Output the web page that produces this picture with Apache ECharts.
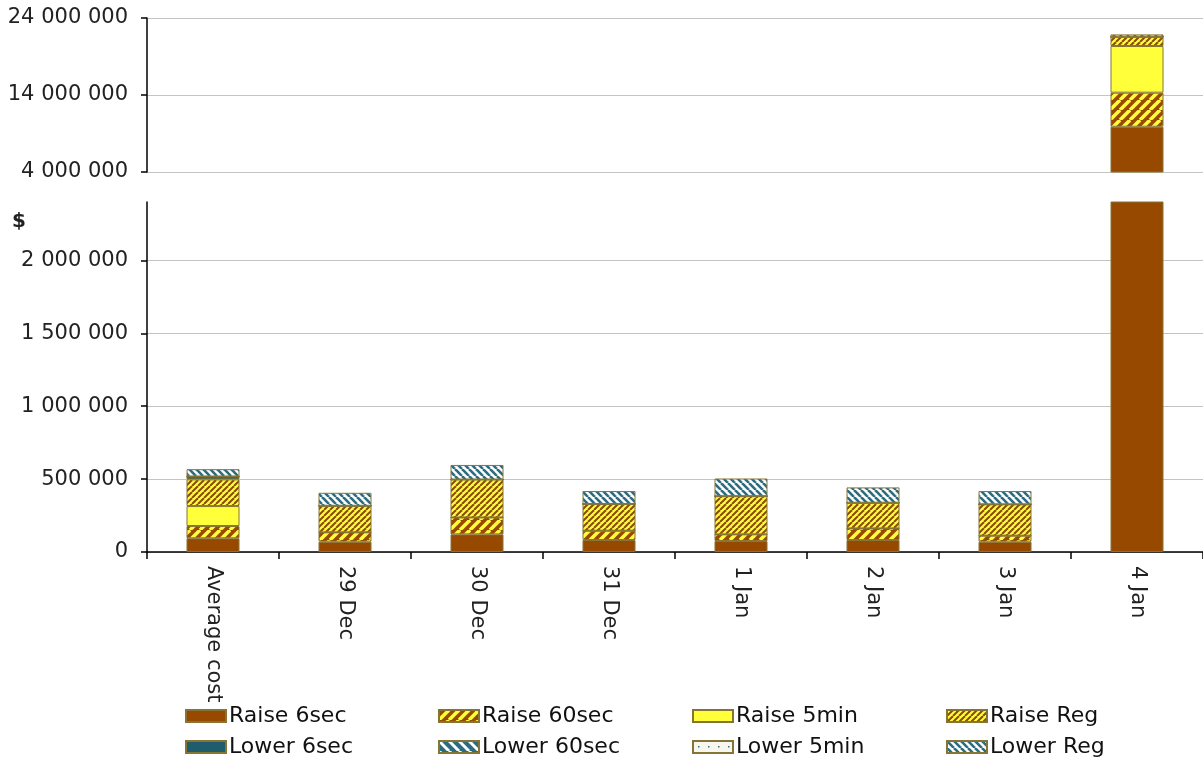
<!DOCTYPE html>
<html>
<head>
<meta charset="utf-8">
<script src="https://cdn.jsdelivr.net/npm/echarts@6/dist/echarts.min.js"></script>
<style>
html,body{margin:0;padding:0;background:#fff;}
#chart{width:1203px;height:769px;}
</style>
</head>
<body>
<div id="chart"></div>
<script>
// ---- data ----
const categories = ['Average cost', '29 Dec', '30 Dec', '31 Dec', '1 Jan', '2 Jan', '3 Jan', '4 Jan'];
const raise6sec  = [94000, 71000, 121000, 82000, 75000, 82000, 71000, 9880000];
const raise60sec = [84000, 64000, 116000, 64000, 46000, 80000, 41000, 4420000];
const raise5min  = [137000, 0, 0, 0, 0, 0, 0, 6060000];
const raiseReg   = [183000, 182000, 260000, 183000, 262000, 176000, 215000, 1210000];
const lower6sec  = [20000, 0, 0, 0, 0, 0, 0, 0];
const lower60sec = [0, 0, 0, 0, 0, 0, 0, 0];
const lower5min  = [0, 0, 0, 0, 0, 0, 0, 0];
const lowerReg   = [50000, 89000, 100000, 89000, 121000, 105000, 91000, 300000];
const topTicks = [4000000, 14000000, 24000000];
const bottomTicks = [0, 500000, 1000000, 1500000, 2000000];

// ---- patterns ----
function stripes(bg, fg, p, lw, dir) {
  const c = document.createElement('canvas');
  c.width = p; c.height = p;
  const g = c.getContext('2d');
  g.fillStyle = bg; g.fillRect(0, 0, p, p);
  g.strokeStyle = fg; g.lineWidth = lw;
  for (let k = -1; k <= 1; k++) {
    g.beginPath();
    if (dir === '/') { g.moveTo(k * p, p); g.lineTo(k * p + p, 0); }
    else { g.moveTo(k * p, 0); g.lineTo(k * p + p, p); }
    g.stroke();
  }
  return { image: c, repeat: 'repeat' };
}
function dots(bg, fg, p) {
  const c = document.createElement('canvas');
  c.width = p; c.height = p;
  const g = c.getContext('2d');
  g.fillStyle = bg; g.fillRect(0, 0, p, p);
  g.fillStyle = fg; g.fillRect(Math.floor(p / 2), Math.floor(p / 2), 1.5, 1.5);
  return { image: c, repeat: 'repeat' };
}
const BROWN = '#984900', YELLOW = '#FFFF3A', TEAL = '#2C6C80', DTEAL = '#1F5C6C';
const BORDER = '#857434';

const seriesDefs = [
  { name: 'Raise 6sec',  data: raise6sec,  color: BROWN },
  { name: 'Raise 60sec', data: raise60sec, color: stripes(BROWN, YELLOW, 10, 3.5, '/') },
  { name: 'Raise 5min',  data: raise5min,  color: YELLOW },
  { name: 'Raise Reg',   data: raiseReg,   color: stripes(YELLOW, '#8a4a08', 6, 2, '/') },
  { name: 'Lower 6sec',  data: lower6sec,  color: DTEAL },
  { name: 'Lower 60sec', data: lower60sec, color: stripes(TEAL, '#ffffff', 10, 3, '\\') },
  { name: 'Lower 5min',  data: lower5min,  color: dots('#f7f7f0', '#2C6C80', 10) },
  { name: 'Lower Reg',   data: lowerReg,   color: stripes('#ffffff', TEAL, 7, 2.6, '\\') }
];

const FONT = '"DejaVu Sans", sans-serif';
const series = [];
seriesDefs.forEach(s => {
  [0, 1].forEach(idx => {
    series.push({
      name: s.name,
      type: 'bar',
      stack: idx === 0 ? 'bottom' : 'top',
      xAxisIndex: idx,
      yAxisIndex: idx,
      data: s.data,
      barWidth: 53,
      clip: true,
      itemStyle: { color: s.color, borderColor: BORDER, borderWidth: 1 },
      emphasis: { disabled: true },
      animation: false
    });
  });
});

// legend layout: 2 rows x 4 columns
const legendCols = [185, 438, 692, 946];
const legendRows = [705, 736];
const legends = seriesDefs.map((s, i) => ({
  data: [s.name],
  left: legendCols[i % 4],
  top: legendRows[Math.floor(i / 4)],
  padding: 0,
  itemWidth: 40,
  itemHeight: 12,
  itemGap: 4,
  icon: 'rect',
  textStyle: { fontFamily: FONT, fontSize: 22, color: '#111', padding: [0, 0, 0, -2] },
  selectedMode: false
}));

const fmt = v => v.toLocaleString('en-US').replace(/,/g, ' ');

const chart = echarts.init(document.getElementById('chart'), null, { renderer: 'canvas' });
chart.setOption({
  backgroundColor: '#ffffff',
  animation: false,
  grid: [
    { left: 147, right: 0, top: 202, height: 350 },
    { left: 147, right: 0, top: 18, height: 154 }
  ],
  xAxis: [
    {
      type: 'category', gridIndex: 0, data: categories,
      axisLine: { lineStyle: { color: '#000', width: 1.5 } },
      axisTick: { show: true, length: 7, lineStyle: { color: '#000', width: 1.5 } },
      axisLabel: { rotate: -90, margin: 14, fontFamily: FONT, fontSize: 21, color: '#222' }
    },
    {
      type: 'category', gridIndex: 1, data: categories, show: false
    }
  ],
  yAxis: [
    {
      type: 'value', gridIndex: 0, min: 0, max: 2400000,
      axisLine: { show: true, lineStyle: { color: '#000', width: 1.5 } },
      axisTick: { show: true, length: 6, customValues: bottomTicks, lineStyle: { color: '#000', width: 1.5 } },
      axisLabel: { customValues: bottomTicks, margin: 19, fontFamily: FONT, fontSize: 21, color: '#222', formatter: fmt },
      splitLine: { show: true, lineStyle: { color: '#c4c4c4', width: 1 } }
    },
    {
      type: 'value', gridIndex: 1, min: 4000000, max: 24000000,
      axisLine: { show: true, lineStyle: { color: '#000', width: 1.5 } },
      axisTick: { show: true, length: 6, customValues: topTicks, lineStyle: { color: '#000', width: 1.5 } },
      axisLabel: { customValues: topTicks, margin: 19, fontFamily: FONT, fontSize: 21, color: '#222', formatter: fmt },
      splitLine: { show: true, lineStyle: { color: '#c4c4c4', width: 1 } }
    }
  ],
  legend: legends,
  graphic: [
    { type: 'text', left: 12, top: 212, style: { text: '$', font: 'bold 20px "DejaVu Sans", sans-serif', fill: '#222' } }
  ],
  series: series
});
</script>
</body>
</html>
